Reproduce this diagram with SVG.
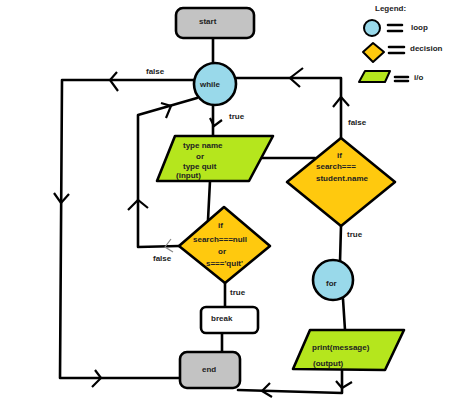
<svg xmlns="http://www.w3.org/2000/svg" width="474" height="407" viewBox="0 0 474 407">
<style>
.ln{fill:none;stroke:#000;stroke-width:2.6;stroke-linecap:round;stroke-linejoin:round}
.ch{fill:none;stroke:#000;stroke-width:2.2;stroke-linecap:butt;stroke-linejoin:miter}
.chf{fill:none;stroke:#888;stroke-width:1.2}
.sh{stroke:#000;stroke-width:2.6;stroke-linejoin:round}
.term{fill:#c3c3c3}
.loop{fill:#99d9ea}
.dec{fill:#ffc90e}
.io{fill:#b5e61d}
.box{fill:#fff}
text{font-family:"Liberation Sans",Arial,sans-serif;font-size:8px;font-weight:bold;fill:#222}
</style>
<rect width="474" height="407" fill="#fff"/>
<g id="connectors">
<path class="ln" d="M213,38 L213,64"/>
<path class="ln" d="M236,78 L341,78 L341,138"/>
<path class="ln" d="M194,80 L62,80 L60,378 L180,378"/>
<path class="ln" d="M213,105 L213,136"/>
<path class="ln" d="M262,158 L315,158"/>
<path class="ln" d="M210,181 L208,220"/>
<path class="ln" d="M179,246 L138,247 L138,115 L197,98"/>
<path class="ln" d="M225,283 L225,307"/>
<path class="ln" d="M222,333 L222,352"/>
<path class="ln" d="M341,226 L340,262"/>
<path class="ln" d="M343,299 L345,330"/>
<path class="ln" d="M342,370 L342,393 L238,390"/>
<polyline class="ch" points="303,68 290,78 300,87"/>
<polyline class="ch" points="333,107 341,97 349,106"/>
<polyline class="ch" points="117,72 110,80 118,91"/>
<polyline class="ch" points="54,193 61,203 69,194"/>
<polyline class="ch" points="95,370 101,378 92,387"/>
<polyline class="ch" points="210,118 214,126 222,120"/>
<polyline class="ch" points="128,210 138,200 148,208"/>
<polyline class="ch" points="161,103 171,106 166,118"/>
<polyline class="chf" points="171,239 165,247 173,252"/>
<polyline class="ch" points="270,383 262,391 272,397"/>
<polyline class="ch" points="336,381 342,388 352,382"/>
<text x="146" y="74">false</text>
<text x="229" y="119">true</text>
<text x="348" y="125">false</text>
<text x="153" y="261">false</text>
<text x="230" y="295">true</text>
<text x="347" y="237">true</text>
</g>
<g id="start">
<rect class="sh term" x="176" y="8" width="78" height="30" rx="7"/>
<text x="199" y="24">start</text>
</g>
<g id="while">
<circle class="sh loop" cx="215" cy="84" r="21"/>
<text x="200" y="87">while</text>
</g>
<g id="input">
<polygon class="sh io" points="175,136 273,136 249,181 157,181"/>
<text x="183" y="148">type name</text>
<text x="196" y="159">or</text>
<text x="183" y="169">type quit</text>
<text x="176" y="178">(input)</text>
</g>
<g id="check-quit">
<polygon class="sh dec" points="224,207 270,246 225,283 179,246"/>
<text x="218" y="228">if</text>
<text x="193" y="242">search===null</text>
<text x="218" y="254">or</text>
<text x="206" y="266">s==='quit'</text>
</g>
<g id="break">
<rect class="sh box" x="201" y="307" width="57" height="26" rx="5"/>
<text x="211" y="321">break</text>
</g>
<g id="end">
<rect class="sh term" x="180" y="352" width="60" height="36" rx="7"/>
<text x="202" y="372">end</text>
</g>
<g id="check-name">
<polygon class="sh dec" points="341,138 395,182 341,226 287,182"/>
<text x="337" y="158">if</text>
<text x="316" y="169">search===</text>
<text x="316" y="181">student.name</text>
</g>
<g id="for">
<circle class="sh loop" cx="333" cy="280" r="20"/>
<text x="326" y="286">for</text>
</g>
<g id="output">
<polygon class="sh io" points="310,330 404,330 385,370 293,369"/>
<text x="312" y="350">print(message)</text>
<text x="313" y="366">(output)</text>
</g>
<g id="legend">
<text x="375" y="11">Legend:</text>
<circle class="sh loop" cx="372" cy="28" r="8" style="stroke-width:2"/>
<path class="ln" d="M388,25 L402,25 M388,31 L402,31"/>
<text x="411" y="30">loop</text>
<polygon class="sh dec" points="373,43 384,52 373,62 363,52" style="stroke-width:2"/>
<path class="ln" d="M389,47 L404,47 M389,53 L404,53"/>
<text x="410" y="51">decision</text>
<polygon class="sh io" points="365,71 390,71 385,82 359,82" style="stroke-width:2"/>
<path class="ln" d="M395,77 L408,77 M395,81 L408,81"/>
<text x="414" y="80">i/o</text>
</g>
</svg>
